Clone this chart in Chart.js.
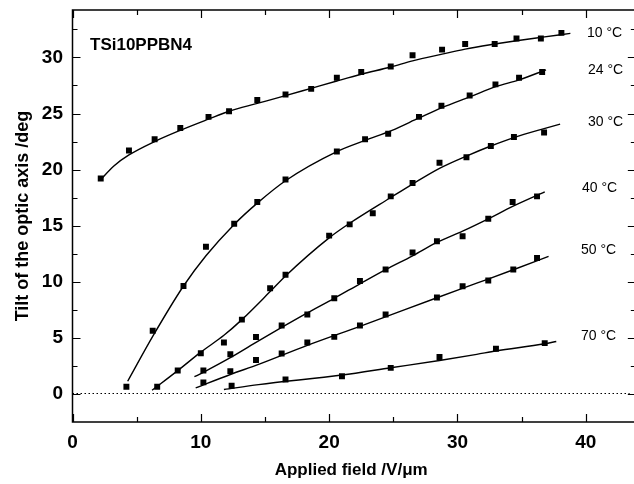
<!DOCTYPE html>
<html>
<head>
<meta charset="utf-8">
<script src="https://cdn.jsdelivr.net/npm/chart.js@4.4.1/dist/chart.umd.min.js"></script>
<style>
html,body{margin:0;padding:0;background:#fff}
#wrap{width:634px;height:484px;position:relative}
</style>
</head>
<body>
<div id="wrap"><canvas id="chart"></canvas></div>
<script>
// measured tilt (deg) vs applied field (V/um), one pair of arrays per temperature
const field10 = [2.2, 4.4, 6.4, 8.4, 10.6, 12.2, 14.4, 16.6, 18.6, 20.6, 22.5, 24.8, 26.5, 28.8, 30.6, 32.9, 34.6, 36.5, 38.1];
const tilt10  = [19.2, 21.7, 22.7, 23.7, 24.7, 25.2, 26.2, 26.7, 27.2, 28.2, 28.7, 29.2, 30.2, 30.7, 31.2, 31.2, 31.7, 31.7, 32.2];
const field24 = [4.2, 6.25, 8.65, 10.4, 12.6, 14.4, 16.6, 20.6, 22.8, 24.6, 27.0, 28.75, 30.95, 32.96, 34.8, 36.6];
const tilt24  = [0.6, 5.6, 9.6, 13.1, 15.15, 17.1, 19.1, 21.6, 22.7, 23.2, 24.7, 25.7, 26.6, 27.6, 28.2, 28.7];
const field30 = [6.6, 8.2, 10.0, 11.8, 13.2, 15.4, 16.6, 20.0, 21.6, 23.4, 24.8, 26.5, 28.6, 30.7, 32.6, 34.4, 36.75];
const tilt30  = [0.6, 2.05, 3.6, 4.55, 6.6, 9.4, 10.6, 14.1, 15.1, 16.1, 17.6, 18.8, 20.6, 21.1, 22.1, 22.9, 23.3];
const field40 = [10.2, 12.3, 14.3, 16.3, 18.3, 20.4, 22.4, 24.4, 26.5, 28.4, 30.4, 32.4, 34.3, 36.2];
const tilt40  = [2.05, 3.5, 5.05, 6.07, 7.05, 8.5, 10.05, 11.07, 12.6, 13.6, 14.05, 15.6, 17.1, 17.6];
const field50 = [10.2, 12.3, 14.3, 16.3, 18.3, 20.4, 22.4, 24.4, 28.4, 30.4, 32.4, 34.35, 36.2];
const tilt50  = [1.0, 2.0, 3.0, 3.57, 4.55, 5.06, 6.07, 7.05, 8.57, 9.58, 10.1, 11.07, 12.1];
const field70 = [12.4, 16.6, 21.0, 24.8, 28.6, 33.0, 36.8];
const tilt70  = [0.7, 1.25, 1.55, 2.29, 3.27, 4.0, 4.5];

// fitted curves
const fitField10 = [2.2, 3.2, 4.4, 6.4, 8.4, 10.6, 12.2, 14.4, 16.6, 18.6, 20.6, 22.5, 24.8, 26.5, 28.8, 30.6, 32.9, 34.6, 36.5, 38.8];
const fitTilt10  = [19.1, 20.3, 21.3, 22.5, 23.5, 24.5, 25.2, 25.9, 26.6, 27.25, 27.9, 28.5, 29.15, 29.7, 30.3, 30.75, 31.2, 31.5, 31.8, 32.15];
const fitField24 = [4.3, 6.25, 8.65, 10.4, 12.6, 14.4, 16.6, 20.6, 22.8, 24.9, 27.0, 28.75, 31.0, 33.0, 34.8, 36.9];
const fitTilt24  = [1.1, 5.1, 9.6, 12.3, 15.1, 17.0, 19.0, 21.6, 22.6, 23.5, 24.6, 25.5, 26.5, 27.4, 28.0, 28.9];
const fitField30 = [6.2, 8.2, 10.0, 11.8, 13.2, 15.4, 16.6, 20.0, 21.6, 24.8, 26.5, 28.6, 30.7, 32.6, 34.4, 36.75, 38.0];
const fitTilt30  = [0.3, 2.05, 3.7, 5.2, 6.6, 9.1, 10.5, 13.9, 15.2, 17.5, 18.7, 20.1, 21.2, 22.1, 22.85, 23.65, 24.05];
const fitField40 = [9.5, 10.2, 12.3, 14.5, 16.3, 18.3, 20.4, 22.4, 24.4, 26.5, 28.4, 30.4, 32.4, 34.3, 36.8];
const fitTilt40  = [1.5, 1.9, 3.2, 4.7, 5.9, 7.2, 8.5, 9.8, 11.07, 12.3, 13.5, 14.5, 15.6, 16.7, 18.0];
const fitField50 = [9.6, 12.3, 14.5, 18.3, 22.4, 28.4, 31.5, 34.35, 37.1];
const fitTilt50  = [0.5, 1.7, 2.6, 4.3, 6.0, 8.55, 9.85, 11.05, 12.25];
const fitField70 = [11.8, 14.5, 21.0, 24.8, 28.6, 31.5, 33.0, 36.8, 37.7];
const fitTilt70  = [0.36, 0.8, 1.65, 2.3, 2.95, 3.5, 3.8, 4.45, 4.65];

const xTicks = [0, 10, 20, 30, 40];
const yTicks = [0, 5, 10, 15, 20, 25, 30];
const tempLabels = ["10 °C", "24 °C", "30 °C", "40 °C", "50 °C", "70 °C"];
const sampleName = "TSi10PPBN4";

const FONT = "'Liberation Sans', Arial, sans-serif";
// the plot is cut at the right image edge; the real right frame sits just outside it
const X_MIN = 0, X_MAX = 43.43, FRAME_X = 43.9, Y_MIN = -2.54, Y_MAX = 34.24;

function pts(xs, ys){ return xs.map((x, i) => ({x, y: ys[i]})); }

function fitSet(xs, ys){
  return {
    type: "line", data: pts(xs, ys),
    borderColor: "#000", borderWidth: 1.4, pointRadius: 0,
    cubicInterpolationMode: "monotone", fill: false
  };
}
function dotSet(xs, ys){
  return {
    type: "scatter", data: pts(xs, ys),
    pointStyle: "rect", pointRadius: 4.2, borderWidth: 0,
    backgroundColor: "#000", showLine: false
  };
}

function noPad(s){ s.paddingTop = 0; s.paddingBottom = 0; s.paddingLeft = 0; s.paddingRight = 0; }

// frame with inward ticks on all four sides
const frameTicks = {
  id: "frameTicks",
  afterDraw(chart){
    const {ctx, chartArea: a, scales: {x, y}} = chart;
    const right = x.getPixelForValue(FRAME_X);
    ctx.save();
    ctx.strokeStyle = "#000";
    ctx.lineWidth = 1.5;
    ctx.strokeRect(a.left, a.top, right - a.left, a.bottom - a.top);
    ctx.lineWidth = 1.2;
    ctx.beginPath();
    for(let v = 0; v <= FRAME_X; v += 5){
      const px = Math.round(x.getPixelForValue(v)) + 0.5;
      const len = v % 10 === 0 ? 8 : 5;
      ctx.moveTo(px, a.bottom); ctx.lineTo(px, a.bottom - len);
      ctx.moveTo(px, a.top); ctx.lineTo(px, a.top + len);
    }
    for(let v = 0; v <= Y_MAX; v += 2.5){
      const py = Math.round(y.getPixelForValue(v)) + 0.5;
      const len = v % 5 === 0 ? 8 : 5;
      ctx.moveTo(a.left, py); ctx.lineTo(a.left + len, py);
      ctx.moveTo(right, py); ctx.lineTo(right - len, py);
    }
    ctx.stroke();

    // texts
    ctx.fillStyle = "#000";
    ctx.textBaseline = "middle";
    ctx.textAlign = "left";
    ctx.font = "bold 17px " + FONT;
    ctx.fillText(sampleName, 90, 45);
    ctx.font = "14px " + FONT;
    const spots = [[587, 33], [588, 70], [588, 122], [582, 188], [581, 250], [581, 336]];
    tempLabels.forEach((t, i) => ctx.fillText(t, spots[i][0], spots[i][1]));
    ctx.restore();
  }
};

const datasets = [
  fitSet(fitField10, fitTilt10), fitSet(fitField24, fitTilt24), fitSet(fitField30, fitTilt30),
  fitSet(fitField40, fitTilt40), fitSet(fitField50, fitTilt50), fitSet(fitField70, fitTilt70),
  dotSet(field10, tilt10), dotSet(field24, tilt24), dotSet(field30, tilt30),
  dotSet(field40, tilt40), dotSet(field50, tilt50), dotSet(field70, tilt70),
  { type: "line", data: [{x: X_MIN, y: 0}, {x: X_MAX, y: 0}], borderColor: "#000",
    borderWidth: 1.1, borderDash: [1.5, 2.5], pointRadius: 0 }
];

new Chart(document.getElementById("chart"), {
  type: "scatter",
  data: { datasets },
  options: {
    responsive: true,
    maintainAspectRatio: false,
    animation: false,
    devicePixelRatio: 1,
    layout: { padding: { top: 10, right: 0, bottom: 0, left: 0 } },
    plugins: { legend: { display: false }, tooltip: { enabled: false } },
    scales: {
      x: {
        type: "linear", min: X_MIN, max: X_MAX,
        grid: { display: false, drawTicks: false },
        border: { display: false },
        afterBuildTicks: s => { s.ticks = xTicks.map(v => ({value: v})); },
        afterFit: s => { s.height = 62; noPad(s); },
        ticks: { color: "#000", padding: 9, maxRotation: 0, font: { family: FONT, size: 19, weight: "bold" } },
        title: { display: true, text: "Applied field /V/μm", color: "#000",
          font: { family: FONT, size: 17, weight: "bold", lineHeight: 1.2 }, padding: { top: 0, bottom: 3 } }
      },
      y: {
        type: "linear", min: Y_MIN, max: Y_MAX,
        grid: { display: false, drawTicks: false },
        border: { display: false },
        afterBuildTicks: s => { s.ticks = yTicks.map(v => ({value: v})); },
        afterFit: s => { s.width = 72.5; noPad(s); },
        ticks: { color: "#000", padding: 9.5, font: { family: FONT, size: 19, weight: "bold" } },
        title: { display: true, text: "Tilt of the optic axis /deg", color: "#000",
          font: { family: FONT, size: 18, weight: "bold", lineHeight: 1.2 }, padding: { top: 12, bottom: 0 } }
      }
    }
  },
  plugins: [frameTicks]
});
</script>
</body>
</html>
